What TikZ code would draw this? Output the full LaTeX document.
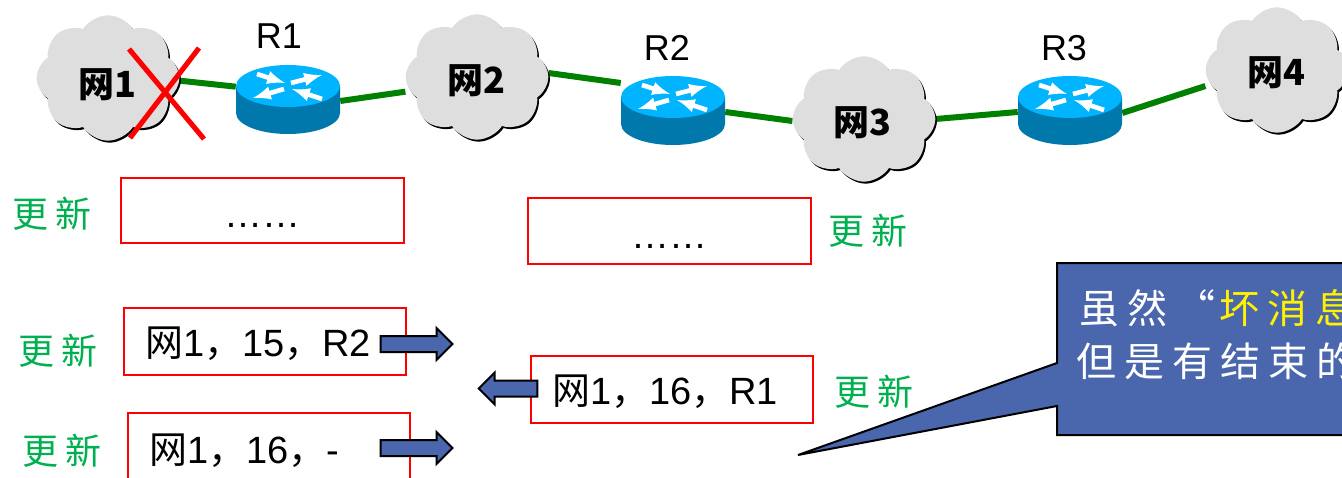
\documentclass[tikz,border=0pt]{standalone}
\usepackage{fontspec}
\setmainfont{Liberation Sans}
\newfontfamily\cjk{Noto Sans CJK SC}
\newfontfamily\cjkwide[LetterSpace=20]{Noto Sans CJK SC}
\usetikzlibrary{positioning,backgrounds,shapes.symbols,shapes.arrows,shadows}
\definecolor{linkgreen}{HTML}{008000}
\definecolor{updategreen}{HTML}{00B050}
\definecolor{calloutblue}{HTML}{4A66AC}
\definecolor{routertop}{HTML}{00B4FF}
\definecolor{routerside}{HTML}{0078AB}
\newcommand{\rowtext}[3]{\raisebox{0pt}[\dimexpr\height+3pt][\depth]{{\cjk 网}#1{\cjk ，}#2{\cjk ，}#3}}
\tikzset{
x=0.75pt,y=-0.75pt,
font={\fontsize{27pt}{32pt}\selectfont},
net/.style={
cloud,cloud puffs=8,cloud puff arc=115,aspect=1.13,
fill=black!13,inner sep=0pt,
minimum width=107pt,minimum height=94pt,
drop shadow={shadow xshift=1.2pt,shadow yshift=-1.5pt,fill=black,opacity=1}},
netlabel/.style={font={\fontsize{27pt}{32pt}\selectfont\bfseries\cjk}},
link/.style={linkgreen,line width=4.5pt},
table/.style={
draw=red,line width=1.5pt,
inner xsep=16pt,inner ysep=0pt,
text width=180pt,align=left,
font={\fontsize{28.5pt}{32pt}\selectfont}},
update/.style={updategreen,font={\fontsize{27pt}{32pt}\selectfont\cjkwide}},
bubbletext/.style={white,anchor=west,inner sep=0pt,font={\fontsize{30pt}{36pt}\selectfont\cjkwide}},
send/.style={
single arrow,draw=black,line width=1.5pt,fill=calloutblue,
inner xsep=0pt,inner ysep=5.25pt,outer sep=0pt,
minimum height=54pt,
single arrow head extend=6pt},
router/.pic={
\fill[routerside] (-52,0) -- (-52,27) arc[start angle=180,end angle=360,x radius=39pt,y radius=15.75pt] -- (52,0) -- cycle;
\fill[routertop] (0,0) ellipse[x radius=39pt,y radius=15.75pt];
\draw[white,line width=3.5pt,-latex] (-31,-12) -- (-3,-3);
\draw[white,line width=3.5pt,-latex] (3,-3) -- (34,-11);
\draw[white,line width=3.5pt,-latex] (-4,3) -- (-35,12);
\draw[white,line width=3.5pt,-latex] (34,13) -- (4,3);
\node[minimum width=78pt,minimum height=52pt,inner sep=0pt] (-box) at (0,14) {};
}
}
\begin{document}
\begin{tikzpicture}
  \useasboundingbox (0,0) rectangle (1342,478);
  \clip (0,0) rectangle (1342,478);
  \node[net] (net1) at (108,78) {};
  \node[net] (net2) at (477,77) {};
  \node[net] (net3) at (864,119) {};
  \node[net] (net4) at (1277,70) {};
  \node[netlabel] (net1label) at (107,85) {网1};
  \node[netlabel] (net2label) at (476,81) {网2};
  \node[netlabel] (net3label) at (862,123) {网3};
  \node[netlabel] (net4label) at (1276,73) {网4};
  \pic (R1) at (288,86) {router};
  \pic (R2) at (673,97) {router};
  \pic (R3) at (1070,97) {router};
  \node (r1label) at (279,36) {R1};
  \node (r2label) at (667,48) {R2};
  \node (r3label) at (1064,48) {R3};
  \begin{scope}[on background layer]
  \draw[link] ([yshift=-2pt] net1.east) -- ([yshift=10pt] R1-box.west);
  \draw[link] ([yshift=-0.75pt] R1-box.east) -- ([yshift=-11pt] net2.west);
  \draw[link] ([yshift=3pt] net2.east) -- ([yshift=21pt] R2-box.west);
  \draw[link] ([yshift=-0.75pt] R2-box.east) -- ([yshift=-1.5pt] net3.west);
  \draw[link] (net3.east) -- ([yshift=-0.75pt] R3-box.west);
  \draw[link] ([yshift=-1.5pt] R3-box.east) -- ([yshift=-12pt] net4.west);
  \end{scope}
  \node[table,align=center,minimum height=49pt] (table1) at (262.5,210.5) {\raisebox{-13pt}[0pt][0pt]{……}};
  \node[table,align=center,minimum height=49pt] (table2) at (669.5,231) {\raisebox{-13pt}[0pt][0pt]{……}};
  \node[table,minimum height=50pt] (table3) at (265,341.5) {\rowtext{1}{15}{R2}};
  \node[table,minimum height=50pt] (table4) at (672,389.5) {\rowtext{1}{16}{R1}};
  \node[table,minimum height=54pt] (table5) at (269,449) {\rowtext{1}{16}{-}};
  \node[update] (update1) at (52,214) {更新};
  \node[update] (update2) at (868,231) {更新};
  \node[update] (update3) at (58,351) {更新};
  \node[update] (update4) at (874,392) {更新};
  \node[update] (update5) at (62,451) {更新};
  \node[send] (send1) at (412.5,344) {};
  \node[send] (send2) at (412.5,448) {};
  \node[send,minimum height=44pt,shape border rotate=180] (send3) at (512,388.5) {};
  % speech bubble
  \draw[fill=calloutblue,line width=1.5pt] (1057,263) -- (1360,263) -- (1360,435) -- (1057,435) -- (1057,406) -- (798,455) -- (1057,363) -- cycle;
  \node[bubbletext] (bubble1) at (1079,308) {虽然“\hspace{3.5pt}\textcolor{yellow}{坏消息}};
  \node[bubbletext] (bubble2) at (1076,361) {但是有结束的};
  % dead network
  \draw[red,line width=3.8pt] (129,49) -- (204,139);
  \draw[red,line width=3.8pt] (199,48) -- (130,138);
\end{tikzpicture}
\end{document}
